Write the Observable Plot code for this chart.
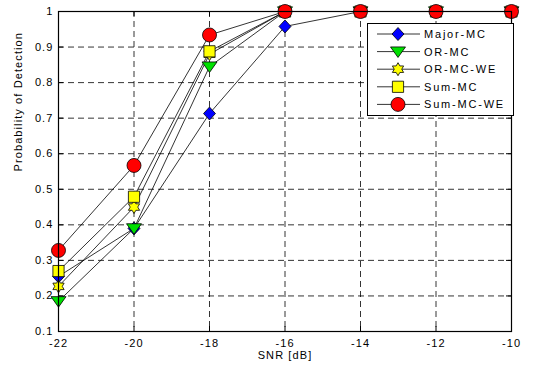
<!DOCTYPE html>
<html>
<head>
<meta charset="utf-8">
<script src="https://cdn.jsdelivr.net/npm/d3@7"></script>
<script src="https://cdn.jsdelivr.net/npm/@observablehq/plot@0.6"></script>
<style>
  body { margin: 0; background: white; }
</style>
</head>
<body>
<div id="chart"></div>
<script>
// ---- data ----
const snr = [-22, -20, -18, -16, -14, -12, -10];
const seriesNames = ["Major-MC", "OR-MC", "OR-MC-WE", "Sum-MC", "Sum-MC-WE"];
const majorMC = [0.255, 0.39, 0.713, 0.958, 1, 1, 1];
const orMC    = [0.185, 0.39, 0.845, 1, 1, 1, 1];
const orMCWE  = [0.227, 0.45, 0.88, 1, 1, 1, 1];
const sumMC   = [0.27, 0.479, 0.888, 1, 1, 1, 1];
const sumMCWE = [0.328, 0.567, 0.934, 1, 1, 1, 1];
const xTicks = [-22, -20, -18, -16, -14, -12, -10];
const yTicks = [0.1, 0.2, 0.3, 0.4, 0.5, 0.6, 0.7, 0.8, 0.9, 1];
const xLabel = "SNR [dB]";
const yLabel = "Probability of Detection";

// ---- symbols ----
const R = s => Math.sqrt(s / Math.PI);
const diamondSym = {draw(c, s) { const r = R(s); c.moveTo(0, -r); c.lineTo(r * 0.92, 0); c.lineTo(0, r); c.lineTo(-r * 0.92, 0); c.closePath(); }};
const triDownSym = {draw(c, s) { const r = R(s); c.moveTo(-r, -0.62 * r); c.lineTo(r, -0.62 * r); c.lineTo(0, 0.78 * r); c.closePath(); }};
const hexagramSym = {draw(c, s) {
  const r = R(s), ri = r / Math.sqrt(3);
  for (let k = 0; k < 12; k++) {
    const a = (-90 + k * 30) * Math.PI / 180;
    const rr = k % 2 === 0 ? r : ri;
    const x = rr * Math.cos(a), y = rr * Math.sin(a);
    if (k === 0) c.moveTo(x, y); else c.lineTo(x, y);
  }
  c.closePath();
}};
const squareSym = {draw(c, s) { const r = R(s); c.rect(-r, -r, 2 * r, 2 * r); }};
const circleSym = {draw(c, s) { const r = R(s); c.moveTo(r, 0); c.arc(0, 0, r, 0, 2 * Math.PI); c.closePath(); }};

const styles = [
  {values: majorMC, fill: "#0000ff", symbol: diamondSym, r: 6.5},
  {values: orMC,    fill: "#00e000", symbol: triDownSym, r: 7.5},
  {values: orMCWE,  fill: "#ffff00", symbol: hexagramSym, r: 6.5},
  {values: sumMC,   fill: "#ffff00", symbol: squareSym, r: 5.6},
  {values: sumMCWE, fill: "#ff0000", symbol: circleSym, r: 7}
];

const tables = styles.map((s, i) => snr.map((x, j) => ({snr: x, pd: s.values[j], name: seriesNames[i]})));

const W = 536, H = 368;
const mL = 58, mR = 25, mT = 11, mB = 37;
const pw = W - mL - mR, ph = H - mT - mB;

const marks = [
  Plot.ruleX(xTicks.slice(1, -1), {stroke: "#000", strokeWidth: 0.8, strokeDasharray: "6,4"}),
  Plot.ruleY(yTicks.slice(1, -1), {stroke: "#000", strokeWidth: 0.8, strokeDasharray: "6,4"}),
  Plot.ruleX(xTicks, {stroke: "#000", strokeWidth: 1, insetTop: ph - 5}),
  Plot.ruleX(xTicks, {stroke: "#000", strokeWidth: 1, insetBottom: ph - 5}),
  Plot.ruleY(yTicks, {stroke: "#000", strokeWidth: 1, insetRight: pw - 5}),
  Plot.ruleY(yTicks, {stroke: "#000", strokeWidth: 1, insetLeft: pw - 5}),
  ...tables.map(t => Plot.line(t, {x: "snr", y: "pd", stroke: "#000", strokeWidth: 0.8})),
  ...tables.map((t, i) => Plot.dot(t, {x: "snr", y: "pd", symbol: styles[i].symbol, r: styles[i].r, fill: styles[i].fill, stroke: "#000", strokeWidth: 0.8})),
  Plot.frame({stroke: "#000", strokeWidth: 1.2}),
  Plot.axisX({ticks: xTicks, tickSize: 0, tickPadding: 8, label: null, tickFormat: d => String(d)}),
  Plot.axisY({ticks: yTicks, tickSize: 0, tickPadding: 5, label: null, tickFormat: d => String(d)}),
  Plot.text([xLabel], {frameAnchor: "bottom", dy: 27, text: d => d, fill: "#000"}),
  Plot.text([yLabel], {frameAnchor: "left", dx: -40, rotate: -90, text: d => d, fill: "#000"})
];

const chart = Plot.plot({
  width: W, height: H,
  marginLeft: mL, marginRight: mR, marginTop: mT, marginBottom: mB,
  x: {domain: [-22, -10]},
  y: {domain: [0.1, 1]},
  style: "font-family: 'Liberation Sans', Arial, sans-serif; font-size: 11px; letter-spacing: 1.1px; color: #000; background: white; overflow: visible;",
  marks
});

// ---- legend ----
const svg = d3.select(chart);
const lg = svg.append("g");
lg.append("rect").attr("x", 367.5).attr("y", 23.5).attr("width", 146).attr("height", 92)
  .attr("fill", "white").attr("stroke", "#000").attr("stroke-width", 1);
styles.forEach((s, i) => {
  const y = 34 + i * 17.6;
  lg.append("line").attr("x1", 377).attr("x2", 420).attr("y1", y).attr("y2", y)
    .attr("stroke", "#000").attr("stroke-width", 0.8);
  lg.append("path").attr("transform", `translate(398,${y})`)
    .attr("d", d3.symbol(s.symbol, s.r * s.r * Math.PI)())
    .attr("fill", s.fill).attr("stroke", "#000").attr("stroke-width", 0.8);
  lg.append("text").attr("x", 424).attr("y", y).attr("dy", "0.36em")
    .attr("text-anchor", "start")
    .attr("fill", "#000").attr("letter-spacing", "1.8px").text(seriesNames[i]);
});

document.getElementById("chart").appendChild(chart);
</script>
</body>
</html>
